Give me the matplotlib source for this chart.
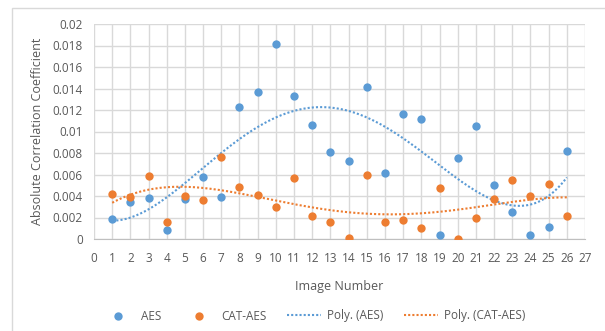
import matplotlib.pyplot as plt
import numpy as np
from matplotlib.patches import Rectangle

image_number = list(range(1, 27))
aes = [0.0019, 0.0034, 0.0038, 0.0008, 0.0037, 0.0058, 0.0039, 0.0123, 0.0137, 0.0181,
       0.0133, 0.0106, 0.0081, 0.0073, 0.0141, 0.0061, 0.0116, 0.0112, 0.0004, 0.0075,
       0.0105, 0.0050, 0.0025, 0.0004, 0.0011, 0.0082]
cat_aes = [0.0042, 0.0039, 0.0059, 0.0016, 0.0040, 0.0036, 0.0076, 0.0048, 0.0041, 0.0030,
           0.0057, 0.0021, 0.0016, 0.0001, 0.0060, 0.0016, 0.0018, 0.0010, 0.0047, 0.0000,
           0.0020, 0.0037, 0.0055, 0.0040, 0.0051, 0.0021]
x_ticks = list(range(0, 28))
y_ticks = [0, 0.002, 0.004, 0.006, 0.008, 0.01, 0.012, 0.014, 0.016, 0.018, 0.02]
y_labels = ['0', '0.002', '0.004', '0.006', '0.008', '0.01', '0.012', '0.014', '0.016', '0.018', '0.02']

blue = '#5B9BD5'
orange = '#ED7D31'
grey = '#595959'

plt.rcParams['font.family'] = ['Open Sans', 'DejaVu Sans']

fig = plt.figure(figsize=(6.05, 3.31), dpi=100)
# chart frame like excel (only top/left edge visible in the crop)
fig.patches.append(Rectangle((12 / 605, -0.1), 1.2, 1 - 8 / 331 + 0.1, transform=fig.transFigure,
                             fill=False, edgecolor='#d9d9d9', lw=1))
ax = fig.add_axes([94 / 605, 1 - 239 / 331, 491 / 605, 215 / 331])

x = np.array(image_number)
xs = np.linspace(1, 26, 200)
p_aes = np.polyfit(x, aes, 4)
p_cat = np.polyfit(x, cat_aes, 4)

ax.scatter(x, aes, s=36, color=blue, zorder=3, label='AES', linewidths=0)
ax.scatter(x, cat_aes, s=36, color=orange, zorder=3, label='CAT-AES', linewidths=0)
ax.plot(xs, np.polyval(p_aes, xs), color=blue, lw=1.5, ls=(0, (1, 1)), label='Poly. (AES)', zorder=2)
ax.plot(xs, np.polyval(p_cat, xs), color=orange, lw=1.5, ls=(0, (1, 1)), label='Poly. (CAT-AES)', zorder=2)

ax.set_xlim(0, 27)
ax.set_ylim(0, 0.02)
ax.set_xticks(x_ticks)
ax.set_yticks(y_ticks)
ax.set_yticklabels(y_labels)
ax.grid(True, color='#d9d9d9', lw=1)
ax.set_axisbelow(True)
for s in ['top', 'right', 'left']:
    ax.spines[s].set_visible(False)
ax.spines['bottom'].set_color('#bfbfbf')
ax.tick_params(axis='x', length=0, labelsize=8.5, colors=grey, pad=9)
ax.tick_params(axis='y', length=0, labelsize=8.5, colors=grey, pad=8)
ax.set_xlabel('Image Number', fontsize=9, color=grey, labelpad=11)
ax.set_ylabel('Absolute Correlation Coefficient', fontsize=9, color=grey, labelpad=6)

fig.legend(loc='center', bbox_to_anchor=(313 / 605, 1 - 316 / 331), ncol=4, frameon=False,
           fontsize=8.5, labelcolor=grey, handlelength=2.9, handletextpad=0.5,
           columnspacing=1.7, markerscale=1)

fig.savefig('out.png', dpi=100)
